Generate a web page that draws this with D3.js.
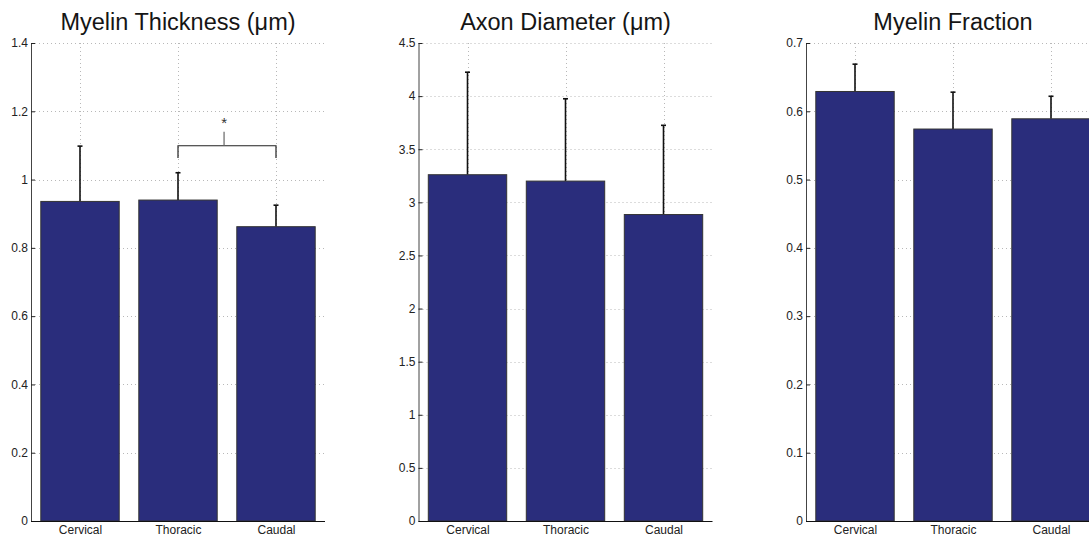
<!DOCTYPE html>
<html>
<head>
<meta charset="utf-8">
<script src="https://cdn.jsdelivr.net/npm/d3@7"></script>
<style>
  html, body { margin: 0; padding: 0; background: #fff; overflow: hidden; }
  svg { display: block; font-family: "Liberation Sans", Arial, Helvetica, sans-serif; }
</style>
</head>
<body>
<svg id="chart" width="1089" height="537"></svg>
<script>
// Spinal cord regions
const categories = ["Cervical", "Thoracic", "Caudal"];

// Myelin thickness (µm): mean and upper error limit
const thicknessMean = [0.936, 0.940, 0.862];
const thicknessUpper = [1.098, 1.020, 0.925];
const thicknessTicks = [0, 0.2, 0.4, 0.6, 0.8, 1, 1.2, 1.4];

// Axon diameter (µm)
const diameterMean = [3.26, 3.20, 2.885];
const diameterUpper = [4.225, 3.975, 3.725];
const diameterTicks = [0, 0.5, 1, 1.5, 2, 2.5, 3, 3.5, 4, 4.5];

// Myelin fraction
const fractionMean = [0.629, 0.574, 0.589];
const fractionUpper = [0.669, 0.628, 0.622];
const fractionTicks = [0, 0.1, 0.2, 0.3, 0.4, 0.5, 0.6, 0.7];

// Significance marker between Thoracic and Caudal thickness
const sigPair = ["Thoracic", "Caudal"];
const sigLevels = { bracket: 1.099, legs: 1.063, stem: 1.14, star: 1.17 };

const panels = [
  { title: "Myelin Thickness (\u03bcm)", mean: thicknessMean, upper: thicknessUpper, ticks: thicknessTicks, left: 31, sig: true },
  { title: "Axon Diameter (\u03bcm)", mean: diameterMean, upper: diameterUpper, ticks: diameterTicks, left: 418.5 },
  { title: "Myelin Fraction", mean: fractionMean, upper: fractionUpper, ticks: fractionTicks, left: 806 }
];

const svg = d3.select("#chart");
const plotTop = 43, plotBottom = 521, plotW = 294;
const barColor = "#2a2d7c";
const labelFont = "Liberation Sans, Arial, sans-serif";

panels.forEach(p => {
  const yMax = p.ticks[p.ticks.length - 1];
  const x = d3.scalePoint().domain(categories).range([p.left + plotW / 6, p.left + plotW * 5 / 6]);
  const y = d3.scaleLinear().domain([0, yMax]).range([plotBottom, plotTop]);
  const bw = x.step() * 0.8;
  const g = svg.append("g");

  // dotted grid
  g.append("g").selectAll("line").data(p.ticks.slice(1)).join("line")
    .attr("x1", p.left).attr("x2", p.left + plotW)
    .attr("y1", d => Math.round(y(d)) + 0.5).attr("y2", d => Math.round(y(d)) + 0.5)
    .attr("stroke", "#b8b8b8").attr("stroke-width", 1).attr("stroke-dasharray", "1,3");
  g.append("g").selectAll("line").data(categories).join("line")
    .attr("x1", d => Math.round(x(d)) + 0.5).attr("x2", d => Math.round(x(d)) + 0.5)
    .attr("y1", plotTop).attr("y2", plotBottom)
    .attr("stroke", "#b8b8b8").attr("stroke-width", 1).attr("stroke-dasharray", "1,3");

  // error bars (upper only)
  const err = g.append("g").attr("stroke", "#111").attr("stroke-width", 1.6);
  categories.forEach((c, i) => {
    const cx = x(c);
    err.append("line").attr("x1", cx).attr("x2", cx).attr("y1", y(p.mean[i])).attr("y2", y(p.upper[i]));
    err.append("line").attr("x1", cx - 2.5).attr("x2", cx + 2.5).attr("y1", y(p.upper[i])).attr("y2", y(p.upper[i]));
  });

  // bars
  g.append("g").selectAll("rect").data(categories).join("rect")
    .attr("x", d => x(d) - bw / 2)
    .attr("width", bw)
    .attr("y", (d, i) => y(p.mean[i]))
    .attr("height", (d, i) => plotBottom - y(p.mean[i]))
    .attr("fill", barColor)
    .attr("stroke", "#333").attr("stroke-width", 1);

  // y axis with inward ticks
  const yAxis = d3.axisRight(y).tickValues(p.ticks).tickSize(4).tickFormat(d3.format("~g"));
  const ya = g.append("g").attr("transform", `translate(${p.left},0)`).call(yAxis);
  ya.select(".domain").attr("stroke", "#444").attr("d", `M0.5,${plotTop}V${plotBottom}`);
  ya.selectAll(".tick line").attr("stroke", "#222");
  ya.selectAll(".tick text").attr("x", -3).attr("text-anchor", "end")
    .attr("font-size", 12).attr("fill", "#222").attr("font-family", labelFont);

  // x axis
  const xAxis = d3.axisBottom(x).tickSize(0).tickPadding(4);
  const xa = g.append("g").attr("transform", `translate(0,${plotBottom})`).call(xAxis);
  xa.select(".domain").attr("stroke", "#111").attr("d", `M${p.left},0.5H${p.left + plotW}`);
  xa.selectAll(".tick text").attr("font-size", 12).attr("fill", "#222")
    .attr("font-family", labelFont);

  // title
  g.append("text").attr("x", x(categories[1])).attr("y", 30)
    .attr("text-anchor", "middle").attr("font-size", 23.5).attr("fill", "#151515")
    .text(p.title);

  // significance bracket
  if (p.sig) {
    const x1 = x(sigPair[0]), x2 = x(sigPair[1]), xm = x1 + (x2 - x1) * 0.47;
    const br = g.append("g").attr("stroke", "#222").attr("stroke-width", 1.2).attr("fill", "none");
    br.append("path").attr("d", `M${x1},${y(sigLevels.legs)}V${y(sigLevels.bracket)}H${x2}V${y(sigLevels.legs)}`);
    br.append("line").attr("x1", xm).attr("x2", xm).attr("y1", y(sigLevels.bracket)).attr("y2", y(sigLevels.stem)).attr("stroke", "#666");
    g.append("text").attr("x", xm).attr("y", y(sigLevels.star) + 6)
      .attr("text-anchor", "middle").attr("font-size", 15).attr("fill", "#333").text("*");
  }
});
</script>
</body>
</html>
